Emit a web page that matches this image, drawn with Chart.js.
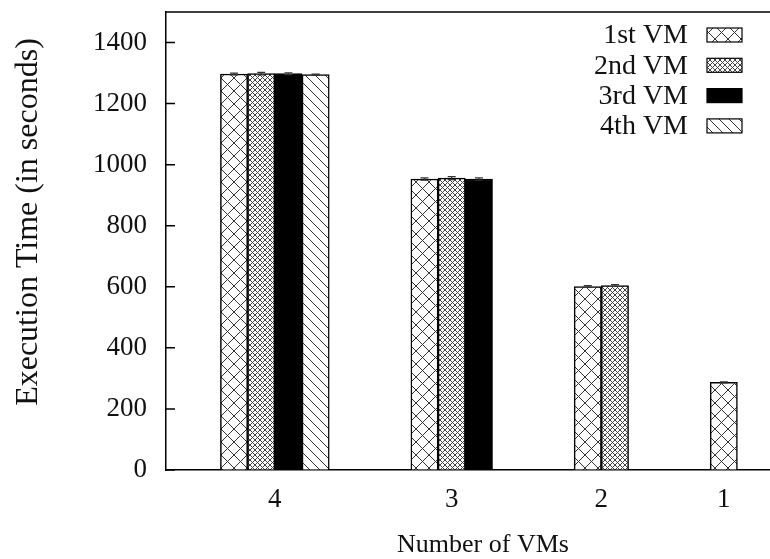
<!DOCTYPE html>
<html>
<head>
<meta charset="utf-8">
<script src="https://cdn.jsdelivr.net/npm/chart.js@4/dist/chart.umd.min.js"></script>
<style>
  html, body { margin: 0; padding: 0; background: #fff; overflow: hidden; }
  #wrap { width: 770px; height: 559px; overflow: hidden; }
  canvas { display: block; }
</style>
</head>
<body>
<div id="wrap"><canvas id="chart" width="812" height="559"></canvas></div>
<script>
// Execution time per VM, grouped by the number of VMs running
const categories = ['4', '3', '2', '1'];
const seriesNames = ['1st VM', '2nd VM', '3rd VM', '4th VM'];
const vm1 = [1297, 953, 601, 287];
const vm2 = [1298, 956, 604, null];
const vm3 = [1298, 953, null, null];
const vm4 = [1295, null, null, null];
const vm1Err = [3, 4, 3, 2];
const vm2Err = [4, 5, 3, null];
const vm3Err = [3, 4, null, null];
const vm4Err = [2, null, null, null];
const yTicks = [0, 200, 400, 600, 800, 1000, 1200, 1400];

const series = [vm1, vm2, vm3, vm4];
const errors = [vm1Err, vm2Err, vm3Err, vm4Err];

// Clustered layout: bars of a cluster sit side by side, clusters separated by a gap of bar slots
const GAP_SLOTS = 3;
const groupStart = [];
const groupCenter = [];
let slot = 0;
categories.forEach((c, g) => {
  const n = series.filter(s => s[g] != null).length;
  groupStart.push(slot);
  groupCenter.push(slot + (n - 1) / 2);
  slot += n + GAP_SLOTS;
});

const canvas = document.getElementById('chart');
const ctx = canvas.getContext('2d');

function makePattern(size, draw) {
  const cv = document.createElement('canvas');
  cv.width = size; cv.height = size;
  const p = cv.getContext('2d');
  p.fillStyle = '#fff';
  p.fillRect(0, 0, size, size);
  draw(p, size);
  return ctx.createPattern(cv, 'repeat');
}
function diag(p, s, down, up) {
  p.beginPath();
  for (const o of [-s, 0, s]) {
    if (down) { p.moveTo(o - 1, -1); p.lineTo(o + s + 1, s + 1); }
    if (up) { p.moveTo(o + s + 1, -1); p.lineTo(o - 1, s + 1); }
  }
  p.stroke();
}
const fills = [
  makePattern(13, (p, s) => { p.strokeStyle = '#333'; p.lineWidth = 1; diag(p, s, true, true); }),
  makePattern(5, (p, s) => { p.strokeStyle = '#444'; p.lineWidth = 1; diag(p, s, true, true); }),
  '#000',
  makePattern(10, (p, s) => { p.strokeStyle = '#333'; p.lineWidth = 1; diag(p, s, true, false); })
];

const datasets = series.map((vals, i) => {
  const data = [];
  vals.forEach((v, g) => {
    if (v != null) data.push({ x: groupStart[g] + i, y: v, err: errors[i][g] });
  });
  return {
    label: seriesNames[i],
    data,
    backgroundColor: fills[i],
    borderColor: '#000',
    borderWidth: 1.5,
    grouped: false,
    categoryPercentage: 1,
    barPercentage: 1
  };
});

const SERIF = "'Liberation Serif', 'DejaVu Serif', serif";
const TEXT = '#111';

const framePlugin = {
  id: 'frame',
  afterDraw(chart) {
    const { ctx: c, chartArea: a } = chart;
    const y = chart.scales.y;
    c.save();
    c.strokeStyle = '#000';
    c.lineWidth = 1.5;
    c.beginPath();
    c.moveTo(a.left, a.top); c.lineTo(a.right, a.top); c.lineTo(a.right, a.bottom);
    c.stroke();
    // inward tick marks on both vertical edges
    y.ticks.forEach(t => {
      const py = y.getPixelForValue(t.value);
      c.beginPath();
      c.moveTo(a.left, py); c.lineTo(a.left + 9, py);
      c.moveTo(a.right, py); c.lineTo(a.right - 9, py);
      c.stroke();
    });
    // y-axis title
    c.fillStyle = TEXT;
    c.font = '32px ' + SERIF;
    c.textAlign = 'center';
    c.textBaseline = 'middle';
    c.translate(29, 222);
    c.rotate(-Math.PI / 2);
    c.fillText('Execution Time (in seconds)', 0, 0);
    c.restore();
  }
};

const errorBarPlugin = {
  id: 'errorBars',
  afterDatasetsDraw(chart) {
    const c = chart.ctx;
    const y = chart.scales.y;
    c.save();
    c.strokeStyle = '#333';
    c.lineWidth = 1.2;
    chart.data.datasets.forEach((ds, i) => {
      const meta = chart.getDatasetMeta(i);
      meta.data.forEach((bar, j) => {
        const d = ds.data[j];
        if (d.err == null) return;
        const top = y.getPixelForValue(d.y + d.err);
        const bot = y.getPixelForValue(d.y - d.err);
        c.beginPath();
        c.moveTo(bar.x, top); c.lineTo(bar.x, bot);
        c.moveTo(bar.x - 4, top); c.lineTo(bar.x + 4, top);
        c.moveTo(bar.x - 4, bot); c.lineTo(bar.x + 4, bot);
        c.stroke();
      });
    });
    c.restore();
  }
};

const legendPlugin = {
  id: 'keyBox',
  afterDraw(chart) {
    const c = chart.ctx;
    c.save();
    c.font = '28px ' + SERIF;
    c.textAlign = 'right';
    c.textBaseline = 'middle';
    chart.data.datasets.forEach((ds, i) => {
      const cy = 35 + i * 30.3;
      c.fillStyle = TEXT;
      c.fillText(ds.label, 688, cy + 1);
      c.fillStyle = ds.backgroundColor;
      c.fillRect(707, cy - 7, 35, 14);
      c.strokeStyle = '#000';
      c.lineWidth = 1.2;
      c.strokeRect(707, cy - 7, 35, 14);
    });
    c.restore();
  }
};

new Chart(canvas, {
  type: 'bar',
  data: { datasets },
  options: {
    responsive: false,
    animation: false,
    layout: { padding: { top: 12, right: 12, left: 0, bottom: 0 } },
    plugins: { legend: { display: false }, tooltip: { enabled: false } },
    scales: {
      x: {
        type: 'linear',
        min: -2.5,
        max: 20.8,
        offset: false,
        afterBuildTicks: s => { s.ticks = groupCenter.map(v => ({ value: v })); },
        afterFit: s => { s.height = 89; s.paddingLeft = 0; s.paddingRight = 0; },
        grid: { drawOnChartArea: false, drawTicks: false },
        border: { display: true, color: '#000', width: 1.5 },
        ticks: {
          autoSkip: false,
          maxRotation: 0,
          padding: 14,
          color: TEXT,
          font: { family: SERIF, size: 27 },
          callback: v => categories[groupCenter.indexOf(v)]
        },
        title: {
          display: true,
          text: 'Number of VMs',
          color: TEXT,
          font: { family: SERIF, size: 26, lineHeight: 0.8 },
          padding: { top: 0, bottom: 3 }
        }
      },
      y: {
        min: 0,
        max: 1500,
        afterBuildTicks: s => { s.ticks = yTicks.map(v => ({ value: v })); },
        afterFit: s => { s.width = 166; s.paddingTop = 0; s.paddingBottom = 0; },
        grid: { drawOnChartArea: false, drawTicks: false },
        border: { display: true, color: '#000', width: 1.5 },
        ticks: {
          padding: 19,
          color: TEXT,
          font: { family: SERIF, size: 27 },
          callback: v => String(v)
        }
      }
    }
  },
  plugins: [framePlugin, errorBarPlugin, legendPlugin]
});
</script>
</body>
</html>
